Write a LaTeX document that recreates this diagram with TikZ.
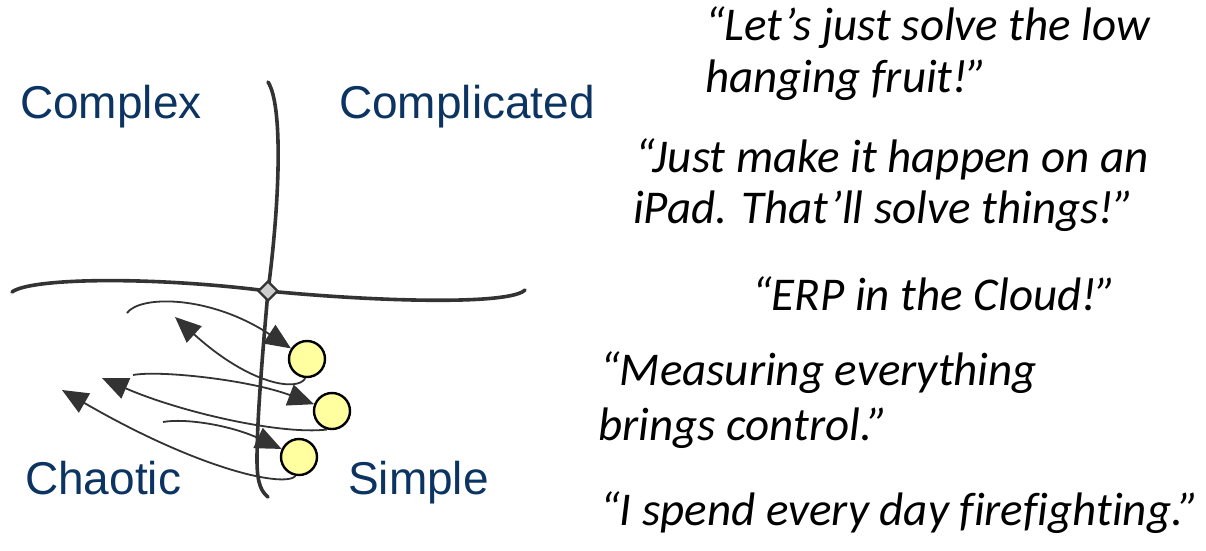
\documentclass[tikz,border=0pt]{standalone}
\usepackage{fontspec}
\setmainfont{Liberation Sans}
\newfontfamily\quotefont[Ligatures={NoCommon}]{Carlito}
\usetikzlibrary{arrows.meta,shapes.geometric}
\definecolor{darkline}{RGB}{51,51,51}
\definecolor{quadblue}{RGB}{12,52,98}
\definecolor{dotfill}{RGB}{255,255,160}
\definecolor{junction}{RGB}{205,205,205}
\tikzset{
  axis/.style={draw=darkline, line width=3.6pt, line cap=round},
  link/.style={draw=darkline, line width=1.8pt, -{Triangle[length=26pt,width=22pt]}},
  revlink/.style={draw=darkline, line width=1.8pt, {Triangle[length=26pt,width=22pt]}-},
  dot/.style={circle, draw=black, line width=2.4pt, fill=dotfill, minimum size=36pt, inner sep=0pt},
  quad/.style={anchor=base west, inner sep=0pt, text=quadblue, font=\fontsize{46}{50}\selectfont},
  quote/.style={anchor=base west, inner sep=0pt, text=black, font=\quotefont\itshape\fontsize{47}{50}\selectfont},
  hub/.style={diamond, draw=darkline, line width=2.4pt, fill=junction, inner sep=0pt, minimum size=20pt}
}
\begin{document}
\begin{tikzpicture}[x=1pt,y=-1pt]
\useasboundingbox (0,0) rectangle (1206,550);
% axes
\coordinate (vtop) at (268,82);
\coordinate (vbot) at (268,497);
\coordinate (hleft) at (12,292);
\coordinate (hright) at (525,290);
\draw[axis] (vtop) .. controls (283,105) and (280,200) .. (268,291);
\draw[axis] (268,291) .. controls (262,360) and (257,420) .. (257,460) .. controls (257,485) and (262,492) .. (vbot);
\draw[axis] (hleft) .. controls (30,278) and (150,276) .. (268,291);
\draw[axis] (268,291) .. controls (380,302) and (510,305) .. (hright);
\node[hub] (hub) at (268,291) {};
% quadrant labels
\node[quad] (complex) at (20,118) {Complex};
\node[quad] (complicated) at (339,118) {Complicated};
\node[quad] (chaotic) at (25,494) {Chaotic};
\node[quad] (simple) at (348,494) {Simple};
% dots
\node[dot] (c1) at (307,359) {};
\node[dot] (c2) at (332,411) {};
\node[dot] (c3) at (299,457) {};
% arrow ends
\coordinate (s1) at (127,313);
\coordinate (t2) at (175,317);
\coordinate (s3) at (133,375);
\coordinate (t4) at (102,378);
\coordinate (s5) at (163,422);
\coordinate (t6) at (62,390);
\draw[link] (s1) .. controls (140,295) and (210,295) .. (c1);
\draw[revlink] (t2) .. controls (250,385) and (298,392) .. (c1.-95);
\draw[link] (s3) .. controls (160,370) and (250,380) .. (c2);
\draw[revlink] (t4) .. controls (180,412) and (280,435) .. (c2.-105);
\draw[link] (s5) .. controls (185,418) and (230,425) .. (c3);
\draw[revlink] (t6) .. controls (200,470) and (285,488) .. (c3.-100);
% quotes
\node[quote] (q1a) at (705,40) {“Let’s just solve the low};
\node[quote] (q1b) at (705,92) {hanging fruit!”};
\node[quote] (q2a) at (635,172) {“Just make it happen on an};
\node[quote] (q2b) at (633,223) {iPad. That’ll solve things!”};
\node[quote] (q3) at (752,310) {“ERP in the Cloud!”};
\node[quote] (q4a) at (600,385) {“Measuring everything};
\node[quote] (q4b) at (598,440) {brings control.”};
\node[quote] (q5) at (600,525) {“I spend every day firefighting.”};
\end{tikzpicture}
\end{document}
